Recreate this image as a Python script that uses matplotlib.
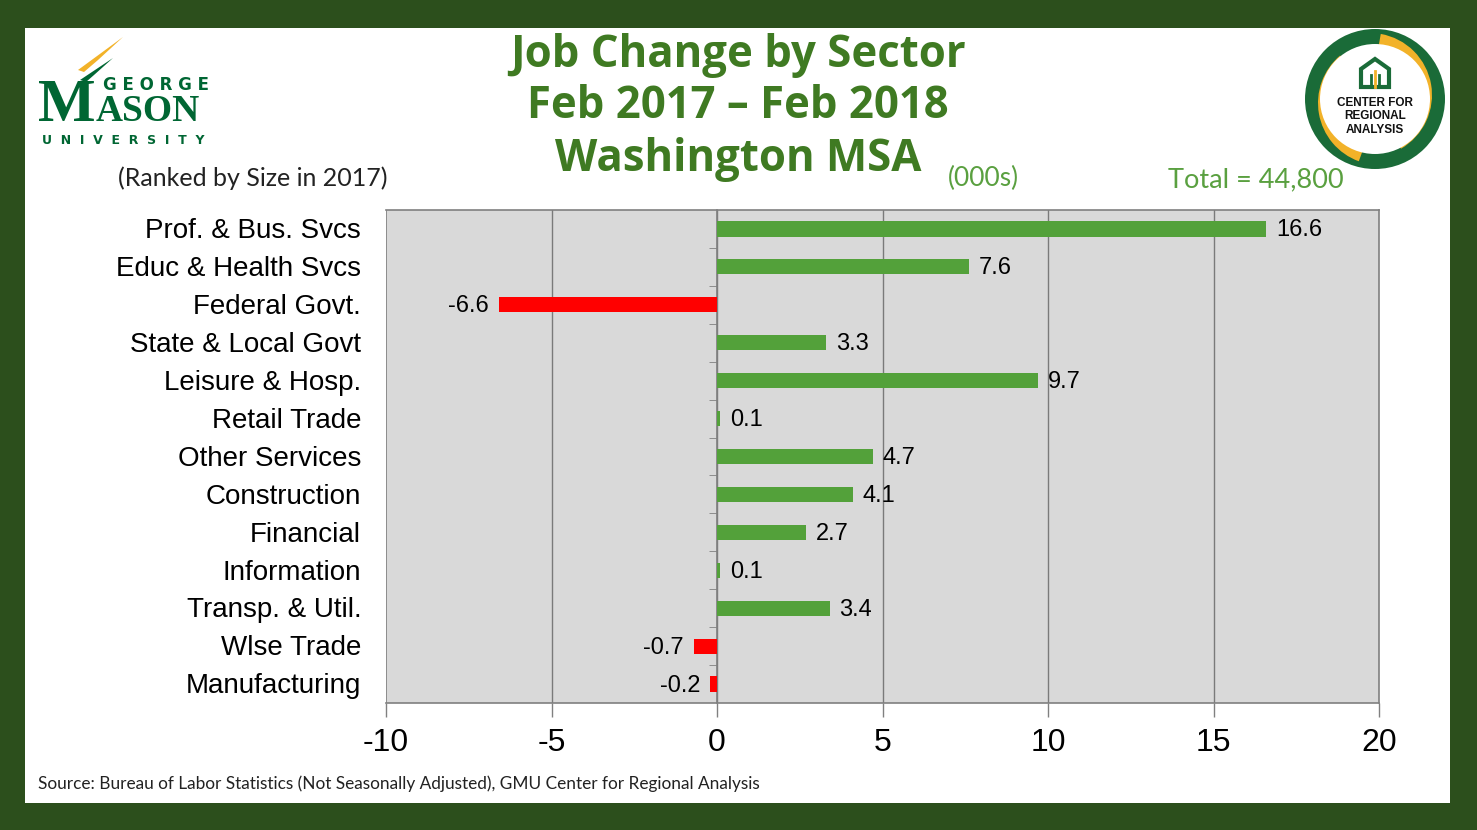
import matplotlib
matplotlib.use("Agg")
import matplotlib.pyplot as plt
from matplotlib.patches import Rectangle, Wedge, Polygon, Circle

# data (thousands of jobs, Feb 2017 - Feb 2018)
sectors = ["Prof. & Bus. Svcs", "Educ & Health Svcs", "Federal Govt.", "State & Local Govt",
           "Leisure & Hosp.", "Retail Trade", "Other Services", "Construction", "Financial",
           "Information", "Transp. & Util.", "Wlse Trade", "Manufacturing"]
changes = [16.6, 7.6, -6.6, 3.3, 9.7, 0.1, 4.7, 4.1, 2.7, 0.1, 3.4, -0.7, -0.2]
x_ticks = [-10, -5, 0, 5, 10, 15, 20]

GREEN = "#53a13a"
RED = "#ff0000"
TITLE_GREEN = "#3f7a22"
BORDER = "#2c4f1c"
GMU_GREEN = "#006633"
GOLD = "#f2b229"

W, H = 1477, 830
fig = plt.figure(figsize=(W / 100, H / 100), dpi=100)
fig.patch.set_facecolor(BORDER)


def fx(px):
    return px / W


def fy(py):
    return 1 - py / H


# white slide panel
fig.patches.append(Rectangle((fx(25), fy(803)), fx(1450) - fx(25), fy(28) - fy(803),
                             transform=fig.transFigure, facecolor="white", edgecolor="none", zorder=-10))

# main chart
ax = fig.add_axes([fx(386), fy(703), fx(1379) - fx(386), fy(210) - fy(703)])
ax.set_facecolor("#d9d9d9")
ypos = list(range(len(sectors)))
colors = [GREEN if v >= 0 else RED for v in changes]
ax.barh(ypos, changes, height=0.4, color=colors, zorder=3)
ax.set_xlim(-10, 20)
ax.set_ylim(len(sectors) - 0.5, -0.5)
ax.set_xticks(x_ticks)
ax.set_xticklabels([str(t) for t in x_ticks], fontsize=23, family="Liberation Sans")
ax.tick_params(axis="x", length=10, width=1, color="#808080", pad=8, direction="out")
for t in x_ticks[1:-1]:
    ax.axvline(t, color="#7a7a7a", linewidth=1.0, zorder=1)
for s in ax.spines.values():
    s.set_color("#808080")
    s.set_linewidth(1.2)
ax.spines["left"].set_position(("data", 0))
ax.spines["left"].set_zorder(2)
ax.set_yticks([])
ax.set_yticks([i + 0.5 for i in ypos[:-1]], minor=True)
ax.tick_params(axis="y", which="minor", length=6, color="#808080", direction="out")
ax.yaxis.set_tick_params(which="minor", labelleft=False)
# left frame line at -10
ax.axvline(-10, color="#808080", linewidth=1.2, zorder=2)

ytrans = ax.get_yaxis_transform()
for i, name in enumerate(sectors):
    ax.text(-0.025, i + 0.06, name, transform=ytrans, ha="right", va="center",
            fontsize=20, family="Liberation Sans", color="black")

for i, v in enumerate(changes):
    if v >= 0:
        ax.text(v + 0.3, i + 0.04, f"{v:.1f}", ha="left", va="center", fontsize=17,
                family="Liberation Sans", zorder=4)
    else:
        ax.text(v - 0.3, i + 0.04, f"{v:.1f}", ha="right", va="center", fontsize=17,
                family="Liberation Sans", zorder=4)

# titles
for txt, yy in [("Job Change by Sector", 55), ("Feb 2017 \u2013 Feb 2018", 107), ("Washington MSA", 160)]:
    fig.text(fx(738), fy(yy), txt, ha="center", va="center", fontsize=31.5, fontweight="bold",
             family="Open Sans", color=TITLE_GREEN)
fig.text(fx(118), fy(178), "(Ranked by Size in 2017)", ha="left", va="center", fontsize=18,
         family="Lato", color="#222222")
fig.text(fx(948), fy(178), "(000s)", ha="left", va="center", fontsize=19,
         family="Lato", color="#5aa040")
fig.text(fx(1168), fy(180), "Total = 44,800", ha="left", va="center", fontsize=19.5,
         family="Lato", color="#5aa040")
fig.text(fx(38), fy(784), "Source: Bureau of Labor Statistics (Not Seasonally Adjusted), GMU Center for Regional Analysis",
         ha="left", va="center", fontsize=12.4, family="Lato", color="#222222")

# GMU logo (approximation)
fig.patches.append(Polygon([(fx(78), fy(70)), (fx(123), fy(37)), (fx(98), fy(60)), (fx(84), fy(72))],
                           closed=True, transform=fig.transFigure, facecolor=GOLD, edgecolor="none"))
fig.patches.append(Polygon([(fx(80), fy(80)), (fx(113), fy(58)), (fx(94), fy(75)), (fx(86), fy(82))],
                           closed=True, transform=fig.transFigure, facecolor=GMU_GREEN, edgecolor="none"))
fig.text(fx(103), fy(85), "G E O R G E", ha="left", va="center", fontsize=12, fontweight="bold",
         family="DejaVu Sans", color=GMU_GREEN)
fig.text(fx(38), fy(121), "M", ha="left", va="baseline", fontsize=44, fontweight="bold",
         family="Liberation Serif", color=GMU_GREEN)
fig.text(fx(96), fy(121), "ASON", ha="left", va="baseline", fontsize=27, fontweight="bold",
         family="Liberation Serif", color=GMU_GREEN)
fig.text(fx(123), fy(141), "U  N  I  V  E  R  S  I  T  Y", ha="center", va="center", fontsize=9,
         fontweight="bold", family="DejaVu Sans", color=GMU_GREEN)

# Center for Regional Analysis logo (approximation)
lax = fig.add_axes([fx(1300), fy(170), fx(1450) - fx(1300), fy(28) - fy(170)])
lax.set_xlim(-75, 75)
lax.set_ylim(-71, 71)
lax.set_aspect("equal")
lax.axis("off")
lax.add_patch(Circle((0, 0), 70, facecolor="#1a6b38", edgecolor="none"))
lax.add_patch(Wedge((-5, 4), 62, 300, 80, width=11, facecolor=GOLD, edgecolor="none"))
lax.add_patch(Wedge((5, -4), 62, 130, 250, width=11, facecolor=GOLD, edgecolor="none"))
lax.add_patch(Circle((0, 0), 55, facecolor="white", edgecolor="none"))
lax.add_patch(Polygon([(-14, 12), (-14, 30), (0, 40), (14, 30), (14, 12)], closed=True,
                      facecolor="none", edgecolor="#1a6b38", linewidth=3))
lax.plot([-4, -4], [12, 24], color="#1a6b38", linewidth=2)
lax.plot([0, 0], [12, 28], color=GOLD, linewidth=2)
lax.plot([4, 4], [12, 24], color="#1a6b38", linewidth=2)
for txt, yy in [("CENTER FOR", -4), ("REGIONAL", -17), ("ANALYSIS", -31)]:
    lax.text(0, yy, txt, ha="center", va="center", fontsize=8.5,
             fontweight="bold", family="Liberation Sans", color="#111111")

fig.savefig("out.png", dpi=100, facecolor=fig.get_facecolor())
